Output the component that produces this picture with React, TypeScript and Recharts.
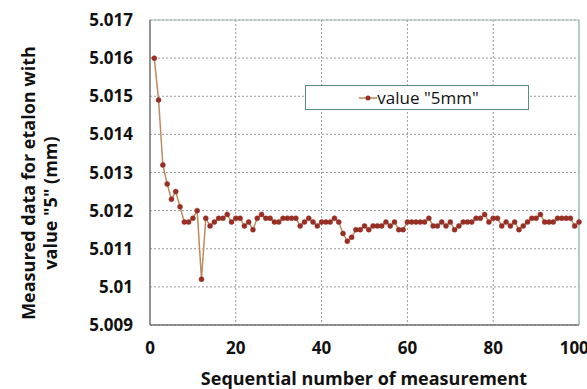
import { LineChart, Line, XAxis, YAxis, CartesianGrid, Legend, ReferenceLine } from "recharts";

const measuredValues = [
  5.016, 5.0149, 5.0132, 5.0127, 5.0123, 5.0125, 5.0121, 5.0117, 5.0117, 5.0118,
  5.012, 5.0102, 5.0118, 5.0116, 5.0117, 5.0118, 5.0118, 5.0119, 5.0117, 5.0118,
  5.0118, 5.0116, 5.0117, 5.0115, 5.0118, 5.0119, 5.0118, 5.0118, 5.0117, 5.0117,
  5.0118, 5.0118, 5.0118, 5.0118, 5.0116, 5.0117, 5.0118, 5.0117, 5.0116, 5.0117,
  5.0117, 5.0117, 5.0118, 5.0117, 5.0114, 5.0112, 5.0113, 5.0115, 5.0115, 5.0116,
  5.0115, 5.0116, 5.0116, 5.0116, 5.0117, 5.0116, 5.0117, 5.0115, 5.0115, 5.0117,
  5.0117, 5.0117, 5.0117, 5.0117, 5.0118, 5.0116, 5.0116, 5.0117, 5.0116, 5.0117,
  5.0115, 5.0116, 5.0117, 5.0117, 5.0117, 5.0118, 5.0118, 5.0119, 5.0117, 5.0118,
  5.0118, 5.0116, 5.0117, 5.0116, 5.0117, 5.0115, 5.0116, 5.0117, 5.0118, 5.0118,
  5.0119, 5.0117, 5.0117, 5.0117, 5.0118, 5.0118, 5.0118, 5.0118, 5.0116, 5.0117,
];

const xTicks = [0, 20, 40, 60, 80, 100];
const yTicks = [5.009, 5.01, 5.011, 5.012, 5.013, 5.014, 5.015, 5.016, 5.017];

const seriesName = 'value "5mm"';
const xTitle = "Sequential number of measurement";
const yTitleLines = ["Measured data for etalon with", 'value "5" (mm)'];

const data = measuredValues.map((value, i) => ({ n: i + 1, value }));

const FONT = "'Open Sans', sans-serif";
const LINE = "#c08a5e";
const MARKER = "#962f25";
const BORDER = "#9dbdb5";

const fmtY = (v: number) => String(parseFloat(v.toFixed(3)));

function LegendBox() {
  return (
    <div
      style={{
        width: 224,
        height: 25,
        border: "1px solid #5f8a80",
        background: "#fff",
        display: "flex",
        alignItems: "center",
        justifyContent: "center",
        fontFamily: FONT,
        fontSize: 17,
        color: "#111",
        boxSizing: "border-box",
      }}
    >
      <svg width={18} height={10} style={{ marginLeft: 4 }}>
        <line x1={0} y1={5} x2={18} y2={5} stroke={LINE} strokeWidth={1.5} />
        <circle cx={9} cy={5} r={2.5} fill={MARKER} />
      </svg>
      <span>{seriesName}</span>
    </div>
  );
}

function YTitle() {
  return (
    <g fontFamily={FONT} fontWeight="bold" fontSize={18} fill="#111">
      <text x={28} y={183} transform="rotate(-90 28 183)" textAnchor="middle" dominantBaseline="central">
        {yTitleLines[0]}
      </text>
      <text x={50} y={203} transform="rotate(-90 50 203)" textAnchor="middle" dominantBaseline="central">
        {yTitleLines[1]}
      </text>
    </g>
  );
}

function XTitle() {
  return (
    <text
      x={364}
      y={378}
      textAnchor="middle"
      dominantBaseline="central"
      fontFamily={FONT}
      fontWeight="bold"
      fontSize={18}
      fill="#111"
    >
      {xTitle}
    </text>
  );
}

export default function App() {
  return (
    <div style={{ position: "absolute", left: 0, top: 0, background: "#fff" }}>
      <LineChart width={587} height={389} data={data} margin={{ top: 20, right: 8, bottom: 0, left: 0 }}>
        <CartesianGrid stroke="#999" strokeDasharray="2 2" verticalValues={[20, 40, 60, 80]} />
        <ReferenceLine y={5.017} stroke={BORDER} strokeWidth={1.2} />
        <ReferenceLine x={100} stroke={BORDER} strokeWidth={1.5} />
        <XAxis
          type="number"
          dataKey="n"
          domain={[0, 100]}
          ticks={xTicks}
          height={64}
          tickSize={0}
          tickMargin={17}
          stroke="#6f6f6f"
          strokeWidth={1.5}
          tick={{ fontFamily: FONT, fontWeight: "bold", fontSize: 17, fill: "#111" }}
          label={{ content: () => <XTitle /> }}
        />
        <YAxis
          type="number"
          domain={[5.009, 5.017]}
          ticks={yTicks}
          width={150}
          tickSize={0}
          tickMargin={17}
          interval={0}
          allowDataOverflow
          stroke="#6f6f6f"
          strokeWidth={1.5}
          tickFormatter={fmtY}
          tick={{ fontFamily: FONT, fontWeight: "bold", fontSize: 17, fill: "#111" }}
          label={{ content: () => <YTitle /> }}
        />
        <Legend
          layout="horizontal"
          verticalAlign="middle"
          align="center"
          content={() => <LegendBox />}
          wrapperStyle={{ position: "absolute", left: 305, top: 85, width: 226, height: 27 }}
        />
        <Line
          type="linear"
          dataKey="value"
          name={seriesName}
          stroke={LINE}
          strokeWidth={1.5}
          dot={{ r: 2.5, fill: MARKER, stroke: MARKER, strokeWidth: 0.5 }}
          isAnimationActive={false}
        />
      </LineChart>
    </div>
  );
}
